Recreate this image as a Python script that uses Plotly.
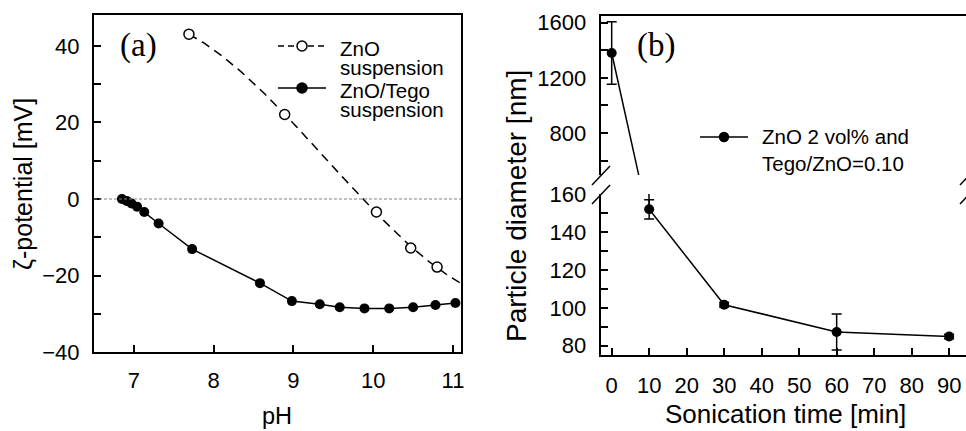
import numpy as np
import plotly.graph_objects as go

# ---- (a) zeta potential against pH ----
ph_zno = [7.69, 8.89, 10.04, 10.47, 10.80]
zeta_zno = [43.1, 22.1, -3.4, -12.8, -17.8]

ph_tego = [6.85, 6.91, 6.97, 7.04, 7.13, 7.31, 7.73, 8.58, 8.98, 9.33,
           9.58, 9.89, 10.20, 10.50, 10.78, 11.03]
zeta_tego = [0.0, -0.5, -1.2, -2.0, -3.4, -6.4, -13.1, -22.0, -26.7, -27.5,
             -28.3, -28.6, -28.6, -28.3, -27.7, -27.2]

# ---- (b) particle diameter against sonication time ----
time_min = [0, 10, 30, 60, 90]
diameter_nm = [1380, 152.2, 101.7, 87.3, 84.9]
diameter_err = [227, 5.1, 1.2, 9.5, 1.2]

W, H = 966, 431
FONT = "Liberation Sans, Arial, sans-serif"
SERIF = "Liberation Serif, Times New Roman, serif"


def fx(p):
    return p / W


def fy(p):
    return 1 - p / H


fig = go.Figure()

# cubic trend through the ZnO points, drawn to the right edge of the pH axis
ph_max_axis = 11.1
coef = np.polyfit(ph_zno, zeta_zno, 3)
ph_fit = np.linspace(min(ph_zno), ph_max_axis, 120)
fig.add_trace(go.Scatter(
    x=ph_fit, y=np.polyval(coef, ph_fit), mode="lines",
    line=dict(color="black", width=1.5, dash="9px,6px"),
    xaxis="x", yaxis="y", hoverinfo="skip"))
fig.add_trace(go.Scatter(
    x=ph_zno, y=zeta_zno, mode="markers", name="ZnO suspension",
    marker=dict(symbol="circle", size=10, color="white",
                line=dict(color="black", width=1.5)),
    xaxis="x", yaxis="y"))
fig.add_trace(go.Scatter(
    x=ph_tego, y=zeta_tego, mode="lines+markers", name="ZnO/Tego suspension",
    line=dict(color="black", width=1.5),
    marker=dict(symbol="circle", size=10, color="black"),
    xaxis="x", yaxis="y"))

# panel (b): same series on the upper and lower parts of the broken axis
err = dict(type="data", array=diameter_err, visible=True, color="black",
           thickness=1.5, width=5)
for xa, ya in (("x2", "y3"), ("x3", "y2")):
    fig.add_trace(go.Scatter(
        x=time_min, y=diameter_nm, mode="lines+markers",
        name="ZnO 2 vol% and Tego/ZnO=0.10",
        line=dict(color="black", width=1.5),
        marker=dict(symbol="circle", size=10, color="black"),
        error_y=err, xaxis=xa, yaxis=ya))

axis_common = dict(
    showline=True, linecolor="black", linewidth=2,
    ticks="inside", ticklen=7, tickwidth=1.5, tickcolor="black",
    showgrid=False, zeroline=False, automargin=False,
    tickfont=dict(family=FONT, size=22, color="black"),
)
minor_common = dict(ticks="inside", ticklen=7, tickwidth=1.5,
                    tickcolor="black", showgrid=False)

fig.update_layout(
    width=W, height=H, autosize=False,
    margin=dict(l=0, r=0, t=0, b=0, pad=0, autoexpand=False),
    paper_bgcolor="white", plot_bgcolor="white",
    showlegend=False,
    xaxis=dict(axis_common, domain=[fx(94), fx(461)], range=[6.5, 11.1],
               dtick=1, mirror=True, anchor="y", ticklabelstandoff=8),
    yaxis=dict(axis_common, domain=[fy(352), fy(15)], range=[-40, 48.1],
               dtick=20, mirror=True, anchor="x", ticklabelstandoff=8,
               minor=dict(minor_common, dtick=10)),
    xaxis2=dict(axis_common, domain=[fx(600.7), 1.0], range=[-2.93, 94.5],
                dtick=10, tick0=0, anchor="y3", ticklabelstandoff=10),
    xaxis3=dict(showline=True, linecolor="black", linewidth=2,
                domain=[fx(600.7), 1.0], range=[-2.93, 94.5],
                matches="x2", anchor="y2", side="top", automargin=False,
                ticks="", showticklabels=False, showgrid=False,
                zeroline=False),
    yaxis3=dict(axis_common, domain=[fy(355), fy(194)], range=[75.1, 160.3],
                dtick=20, tick0=80, anchor="x2", ticklabelstandoff=8,
                minor=dict(minor_common, dtick=10)),
    yaxis2=dict(axis_common, domain=[fy(175), fy(15.5)], range=[495, 1652],
                dtick=400, tick0=0, anchor="x3", ticklabelstandoff=8,
                minor=dict(minor_common, dtick=200)),
)

shapes = []
# zero reference line in panel (a)
shapes.append(dict(type="line", xref="x domain", yref="y", x0=0, x1=1,
                   y0=0, y1=0, line=dict(color="#808080", width=1,
                                         dash="3px,2px")))
# axis-break slashes in panel (b)
for cx in (601, 969):
    for cy in (175.5, 194.5):
        shapes.append(dict(type="line", xref="paper", yref="paper",
                           x0=fx(cx - 9), y0=fy(cy + 9.5),
                           x1=fx(cx + 9), y1=fy(cy - 9.5),
                           line=dict(color="black", width=1.5)))


def legend_key(x0, x1, y, dash, fill, r=5):
    shapes.append(dict(type="line", xref="paper", yref="paper",
                       x0=fx(x0), x1=fx(x1), y0=fy(y), y1=fy(y),
                       line=dict(color="black", width=1.5, dash=dash)))
    cx = (x0 + x1) / 2
    shapes.append(dict(type="circle", xref="paper", yref="paper",
                       x0=fx(cx - r), x1=fx(cx + r),
                       y0=fy(y + r), y1=fy(y - r),
                       fillcolor=fill, line=dict(color="black", width=1.5)))


legend_key(278, 326, 46, "6px,4px", "white")
legend_key(278, 326, 88, "solid", "black")
legend_key(700, 748, 137, "solid", "black", r=4.5)
fig.update_layout(shapes=shapes)

annotations = []


def text(s, x, y, size, family=FONT, xanchor="left", yanchor="middle",
         angle=0):
    annotations.append(dict(text=s, x=fx(x), y=fy(y), xref="paper",
                            yref="paper", xanchor=xanchor, yanchor=yanchor,
                            align="left", showarrow=False, textangle=angle,
                            font=dict(family=family, size=size,
                                      color="black")))


def legend_label(lines, x, y_top):
    # tight two-line label: line pitch follows the small base size,
    # glyphs are drawn at the larger span size
    body = "<br>".join(
        '<span style="font-size:20.5px">%s</span>' % s for s in lines)
    text(body, x, y_top, 14.5, yanchor="top")


# legend labels
legend_label(["ZnO", "suspension"], 338, 35)
legend_label(["ZnO/Tego", "suspension"], 338, 77)
text("ZnO 2 vol% and<br>Tego/ZnO=0.10", 760, 150, 20.5)

# panel letters
text("(a)", 138, 46, 33, family=SERIF, xanchor="center")
text("(b)", 656, 45, 33, family=SERIF, xanchor="center")

# axis titles
text("pH", 277, 416, 23.5, xanchor="center")
text("Sonication time [min]", 785, 414, 26, xanchor="center")
text("ζ-potential [mV]", 23, 184, 25, xanchor="center", angle=-90)
text("Particle diameter [nm]", 516, 206, 28, xanchor="center", angle=-90)

fig.update_layout(annotations=annotations)

fig.write_html("out.html")
